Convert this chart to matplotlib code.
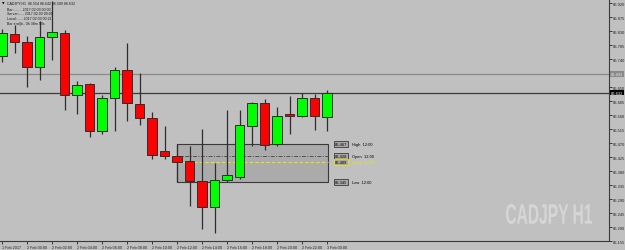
import matplotlib
matplotlib.use("Agg")
import matplotlib.pyplot as plt
from matplotlib.patches import Rectangle, PathPatch
from matplotlib.textpath import TextPath
from matplotlib.font_manager import FontProperties
from matplotlib.transforms import Affine2D, IdentityTransform

# ---------------- data ----------------
bar_times = ["1 Feb 22:00", "1 Feb 23:00", "2 Feb 00:00", "2 Feb 01:00", "2 Feb 02:00", "2 Feb 03:00",
             "2 Feb 04:00", "2 Feb 05:00", "2 Feb 06:00", "2 Feb 07:00", "2 Feb 08:00", "2 Feb 09:00",
             "2 Feb 10:00", "2 Feb 11:00", "2 Feb 12:00", "2 Feb 13:00", "2 Feb 14:00", "2 Feb 15:00",
             "2 Feb 16:00", "2 Feb 17:00", "2 Feb 18:00", "2 Feb 19:00", "2 Feb 20:00", "2 Feb 21:00",
             "2 Feb 22:00", "2 Feb 23:00", "3 Feb 00:00"]
opens  = [86.750, 86.820, 86.795, 86.714, 86.811, 86.824, 86.624, 86.660, 86.509, 86.615, 86.705, 86.595,
          86.550, 86.444, 86.428, 86.412, 86.348, 86.264, 86.351, 86.361, 86.525, 86.599, 86.466, 86.563,
          86.557, 86.615, 86.554]
highs  = [86.836, 86.849, 86.814, 86.862, 86.926, 86.833, 86.669, 86.663, 86.624, 86.714, 86.791, 86.695,
          86.570, 86.525, 86.467, 86.460, 86.515, 86.406, 86.576, 86.576, 86.602, 86.611, 86.586, 86.621,
          86.631, 86.627, 86.642]
lows   = [86.730, 86.759, 86.650, 86.672, 86.737, 86.576, 86.563, 86.489, 86.499, 86.509, 86.541, 86.528,
          86.419, 86.419, 86.345, 86.268, 86.194, 86.181, 86.345, 86.354, 86.460, 86.447, 86.460, 86.499,
          86.554, 86.512, 86.509]
closes = [86.824, 86.795, 86.714, 86.811, 86.827, 86.624, 86.656, 86.509, 86.615, 86.705, 86.599, 86.550,
          86.431, 86.428, 86.409, 86.348, 86.264, 86.351, 86.367, 86.528, 86.599, 86.463, 86.557, 86.557,
          86.615, 86.557, 86.632]

price_ticks = [86.920, 86.875, 86.830, 86.785, 86.740, 86.695, 86.650, 86.605, 86.560, 86.515,
               86.470, 86.425, 86.380, 86.335, 86.290, 86.245, 86.200, 86.155]
price_tick_labels = ["86.920", "86.875", "86.830", "86.785", "86.740", "", "86.650", "86.605",
                     "86.560", "86.515", "86.470", "86.425", "86.380", "86.335", "86.290", "86.245",
                     "86.200", "86.155"]
time_tick_pos = [0, 2, 4, 6, 8, 10, 12, 14, 16, 18, 20, 22, 24, 26]
time_tick_labels = ["1 Feb 2017", "2 Feb 00:00", "2 Feb 02:00", "2 Feb 04:00", "2 Feb 06:00",
                    "2 Feb 08:00", "2 Feb 10:00", "2 Feb 12:00", "2 Feb 14:00", "2 Feb 16:00",
                    "2 Feb 18:00", "2 Feb 20:00", "2 Feb 22:00", "3 Feb 00:00"]

bid_price = 86.632
hline_price = 86.692
box_bar = 14          # 12:00 bar
box_high, box_open, box_close, box_low = 86.467, 86.428, 86.409, 86.345

# ---------------- figure ----------------
W, H = 625, 251
BG = "#C0C0C0"
fig = plt.figure(figsize=(W / 100, H / 100), dpi=100)
fig.patch.set_facecolor(BG)
ax = fig.add_axes([0, 1 - 242 / H, 609 / W, 242 / H])
ax.set_facecolor(BG)
ax.set_xlim(-0.16, 48.56)
ax.set_ylim(86.155, 86.933)

SMALL = ["Liberation Sans", "DejaVu Sans"]

# horizontal lines
ax.axhline(hline_price, color="#8A8A8A", lw=0.9, zorder=1)
ax.axhline(bid_price, color="#3A3A3A", lw=0.9, zorder=1)

# highlight box
x0, x1 = box_bar, box_bar + 12.1
ax.add_patch(Rectangle((x0, box_low), x1 - x0, box_high - box_low, facecolor="#ABABAB",
                       edgecolor="#3A3A3A", lw=0.8, zorder=1.5))
ax.plot([x0, x1], [box_open, box_open], color="#505050", lw=0.7, ls=(0, (4, 1.5, 1, 1.5)), zorder=1.6)
ax.plot([x0, x1], [box_close, box_close], color="#E8E800", lw=0.8, ls=(0, (3, 2)), zorder=1.6)

# candles
for i, (o, h, l, c) in enumerate(zip(opens, highs, lows, closes)):
    col = "#00FF00" if c >= o else "#FF0000"
    ax.vlines(i, l, h, color="#2E2E2E", lw=0.9, zorder=2)
    bot = min(o, c)
    ht = max(abs(c - o), 0.0015)
    ax.add_patch(Rectangle((i - 0.38, bot), 0.76, ht, facecolor=col, edgecolor="#2E2E2E",
                           lw=0.7, zorder=3))

# box labels
lab_specs = [(box_high, "86.467", "High  12:00", "#3A3A3A", "black"),
             (box_open, "86.428", "Open  12:00", "#3A3A3A", "black"),
             (box_close, "86.409", "Close  12:00", "#E8E800", "#E8E800"),
             (box_low, "86.345", "Low  12:00", "#3A3A3A", "black")]
for p, val, name, ec, tc in lab_specs:
    ax.text(26.65, p, val, fontsize=2.9, family=SMALL, va="center", ha="left", color="black",
            bbox=dict(boxstyle="square,pad=0.2", fc="#A8A8A8", ec=ec, lw=0.6), zorder=5)
    ax.text(28.0, p, name, fontsize=2.9, family=SMALL, va="center", ha="left", color=tc, zorder=5)

# axes styling
for s in ["left", "top"]:
    ax.spines[s].set_visible(False)
for s in ["right", "bottom"]:
    ax.spines[s].set_color("#3A3A3A")
    ax.spines[s].set_linewidth(0.8)

ax.yaxis.tick_right()
ax.set_yticks(price_ticks)
ax.set_yticklabels(price_tick_labels, fontsize=2.9, family=SMALL)
ax.tick_params(axis="y", length=2, width=0.6, pad=0.8, colors="#202020")

ax.set_xticks(time_tick_pos)
ax.set_xticklabels(time_tick_labels, fontsize=2.7, family=SMALL, ha="left")
ax.tick_params(axis="x", length=2, width=0.6, pad=1, direction="out", colors="#202020")

# price flags on right axis
ax.text(48.7, hline_price, "86.692", fontsize=2.9, family=SMALL,
        va="center", ha="left", color="#E6E6E6", clip_on=False,
        bbox=dict(boxstyle="square,pad=0.2", fc="#8A8A8A", ec="none"), zorder=6)
ax.text(48.7, bid_price, "86.632", fontsize=2.9, family=SMALL,
        va="center", ha="left", color="white", clip_on=False,
        bbox=dict(boxstyle="square,pad=0.2", fc="black", ec="none"), zorder=6)

# watermark (condensed by horizontal scaling of the glyph path)
tp = TextPath((0, 0), "CADJPY H1", size=1,
              prop=FontProperties(family=["Liberation Sans", "DejaVu Sans"], weight="bold"))
ext = tp.get_extents()
wx0, wx1, wy_top, wy_bot = 506, 592, 205, 225
sx = (wx1 - wx0) / ext.width
sy = (wy_bot - wy_top) / ext.height
tr = Affine2D().translate(-ext.x0, -ext.y0).scale(sx, sy).translate(wx0, H - wy_bot)
fig.patches.append(PathPatch(tp, transform=tr + IdentityTransform(), facecolor="#D6D6D6",
                             edgecolor="none", figure=fig))

# info text top-left
info = ["CADJPY,H1  86.554 86.642 86.509 86.632",
        "Bar:........ 2017.02.03 00:00",
        "Server:..... 2017.02.03 00:00",
        "Local:...... 2017.02.03 00:21",
        "Bar end(ti.. 0h 38m 59s"]
ys = [4, 10, 14.5, 19, 23.5]
fig.text(1.5 / W, 1 - 4 / H, "▼", fontsize=2.4, va="center", ha="left", color="black")
for t, y in zip(info, ys):
    fig.text(7 / W, 1 - y / H, t, fontsize=2.6, family=SMALL, va="center", ha="left", color="#1A1A1A")

fig.savefig("out.png", dpi=100, facecolor=BG)
